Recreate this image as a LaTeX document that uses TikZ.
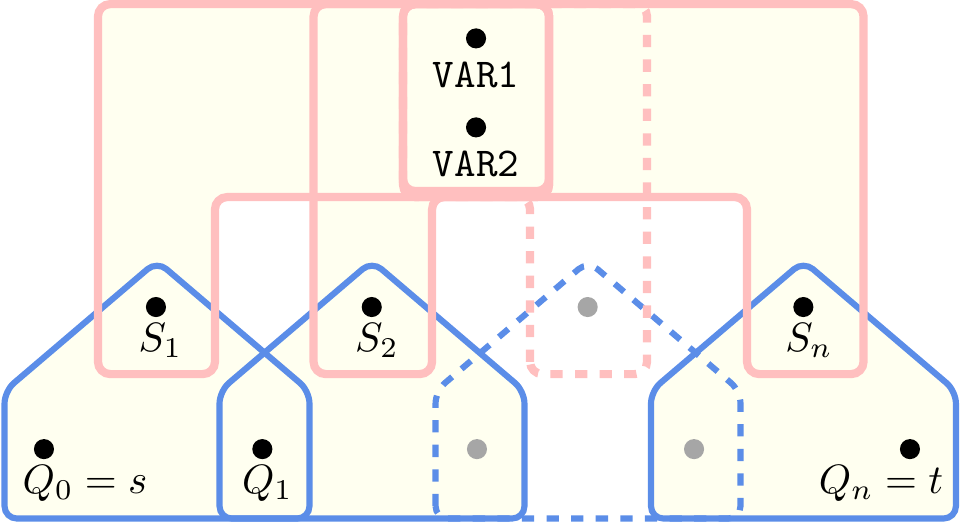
\documentclass[tikz,border=0pt]{standalone}
\usepackage{amsmath}
\usepackage{tikz}
\definecolor{setPink}{HTML}{FFBFBF}
\definecolor{setBlue}{HTML}{5B8DE8}
\definecolor{setFill}{HTML}{FFFFF0}
\tikzset{
  set fill/.style={fill=setFill},
  s set/.style={draw=setPink, line width=2pt, rounded corners=3pt},
  s set dashed/.style={s set, dashed},
  q set/.style={draw=setBlue, line width=1.5pt, rounded corners=3pt},
  q set dashed/.style={q set, dashed},
  vertex/.style={circle, fill=black, minimum size=4.9pt, inner sep=0pt},
  ghost vertex/.style={vertex, fill=black!35},
  tag/.style={anchor=base, inner sep=0pt}
}
\newcommand{\qhouse}[1]{({#1-1.307},0.039) -- ({#1-1.307},1.132) -- (#1,2.246)
  -- ({#1+1.307},1.132) -- ({#1+1.307},0.039) -- cycle}
\newcommand{\setone}{(0.840,1.277) -- (0.840,4.449) -- (4.707,4.449)
  -- (4.707,2.795) -- (1.843,2.795) -- (1.843,1.277) -- cycle}
\newcommand{\settwo}{(2.688,1.277) -- (2.688,4.449) -- (4.707,4.449)
  -- (4.707,2.795) -- (3.704,2.795) -- (3.704,1.277) -- cycle}
\newcommand{\setk}{(4.544,1.277) -- (4.544,2.795) -- (3.455,2.795)
  -- (3.455,4.449) -- (5.547,4.449) -- (5.547,1.277) -- cycle}
\newcommand{\setn}{(6.404,1.277) -- (6.404,2.795) -- (3.455,2.795)
  -- (3.455,4.449) -- (7.403,4.449) -- (7.403,1.277) -- cycle}
\newcommand{\varbox}{(3.455,2.846) rectangle (4.707,4.449)}

\begin{document}
\begin{tikzpicture}
  \useasboundingbox (0,0) rectangle (8.23,4.484);

  \fill[set fill] \setone;
  \fill[set fill] \settwo;
  \fill[set fill] \setn;
  \fill[set fill] \varbox;
  \fill[set fill] \qhouse{1.346};
  \fill[set fill] \qhouse{3.189};
  \fill[set fill] \qhouse{6.888};

  \draw[q set] \qhouse{1.346};
  \draw[q set] \qhouse{3.189};
  \draw[q set dashed] \qhouse{5.041};
  \draw[q set] \qhouse{6.888};

  \draw[s set] \setone;
  \draw[s set] \settwo;
  \draw[s set dashed] \setk;
  \draw[s set] \setn;
  \draw[s set] \varbox;

  \node[vertex] (var1) at (4.081,4.155) {};
  \node[vertex] (var2) at (4.081,3.392) {};
  \node[tag] (var1lab) at (4.081,3.738) {\texttt{VAR1}};
  \node[tag] (var2lab) at (4.081,2.969) {\texttt{VAR2}};

  \node[vertex] (s1) at (1.337,1.852) {};
  \node[vertex] (s2) at (3.187,1.852) {};
  \node[ghost vertex] (sk) at (5.038,1.852) {};
  \node[vertex] (sn) at (6.887,1.852) {};
  \node[tag] (s1lab) at (1.376,1.475) {$S_1$};
  \node[tag] (s2lab) at (3.232,1.475) {$S_2$};
  \node[tag] (snlab) at (6.936,1.475) {$S_n$};

  \node[vertex] (q0) at (0.377,0.634) {};
  \node[vertex] (q1) at (2.249,0.634) {};
  \node[ghost vertex] (q2) at (4.089,0.634) {};
  \node[ghost vertex] (qm) at (5.950,0.634) {};
  \node[vertex] (qn) at (7.801,0.634) {};
  \node[tag] (q0lab) at (0.729,0.253) {$Q_0=s$};
  \node[tag] (q1lab) at (2.293,0.253) {$Q_1$};
  \node[tag] (qnlab) at (7.553,0.253) {$Q_n=t$};
\end{tikzpicture}
\end{document}
